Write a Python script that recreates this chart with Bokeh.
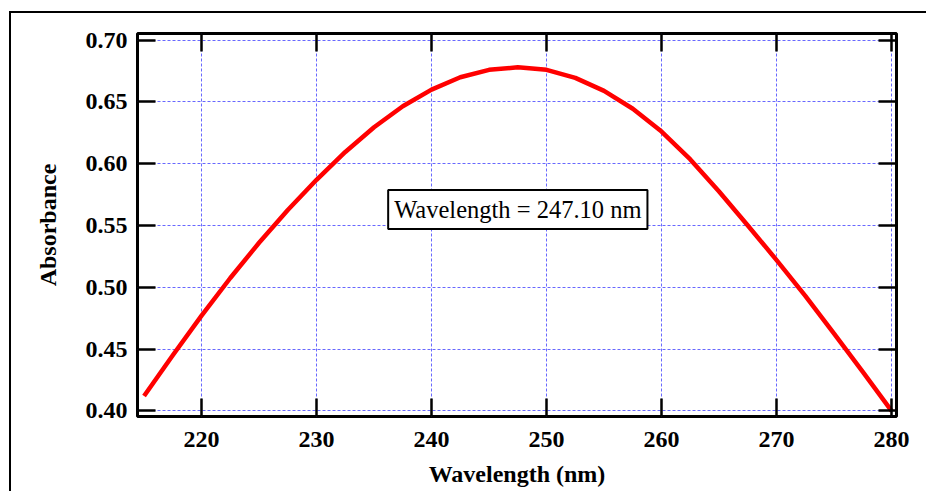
from bokeh.plotting import figure
from bokeh.models import (LinearAxis, Label, FixedTicker, Range1d, NumeralTickFormatter,
                          CustomJSTickFormatter)
from bokeh.embed import file_html
from bokeh.resources import INLINE

wavelength = [215.0, 217.5, 220.0, 222.5, 225.0, 227.5, 230.0, 232.5, 235.0, 237.5,
              240.0, 242.5, 245.0, 247.5, 250.0, 252.5, 255.0, 257.5, 260.0, 262.5,
              265.0, 267.5, 270.0, 272.5, 275.0, 277.5, 280.0]
absorbance = [0.412, 0.445, 0.477, 0.5075, 0.536, 0.5625, 0.587, 0.6095, 0.6295, 0.6465,
              0.660, 0.670, 0.676, 0.678, 0.676, 0.6695, 0.659, 0.6445, 0.626, 0.6035,
              0.5775, 0.550, 0.522, 0.493, 0.4625, 0.4315, 0.400]
x_ticks = [220, 230, 240, 250, 260, 270, 280]
y_ticks = [0.40, 0.45, 0.50, 0.55, 0.60, 0.65, 0.70]
peak_text = "Wavelength = 247.10 nm"
peak_pos = (247.5, 0.563)

FONT = "Liberation Serif"

p = figure(frame_width=759, frame_height=383,
           x_range=Range1d(214.43, 280.43), y_range=Range1d(0.3954, 0.7054),
           output_backend="svg", toolbar_location=None,
           min_border_left=126, min_border_top=20, min_border_right=30, min_border_bottom=75,
           x_axis_label="Wavelength (nm)", y_axis_label="Absorbance")
p.margin = (11, 0, 0, 9)
p.styles = {"border-left": "2px solid black", "border-top": "2px solid black"}

p.outline_line_color = "black"
p.outline_line_width = 3
p.background_fill_color = "white"
p.border_fill_color = "white"

for ax in p.axis:
    ax.axis_line_color = None
    ax.major_tick_in = 18
    ax.major_tick_out = 0
    ax.major_tick_line_width = 2.5
    ax.major_tick_line_color = "black"
    ax.minor_tick_line_color = None
    ax.major_label_text_font = FONT
    ax.major_label_text_font_style = "bold"
    ax.major_label_text_font_size = "24px"
    ax.major_label_text_color = "black"
    ax.axis_label_text_font = FONT
    ax.axis_label_text_font_style = "bold"
    ax.axis_label_text_font_size = "24px"
    ax.axis_label_text_color = "black"

p.xaxis.ticker = FixedTicker(ticks=x_ticks)
p.yaxis.ticker = FixedTicker(ticks=y_ticks)
p.yaxis.formatter = NumeralTickFormatter(format="0.00")
p.xaxis.major_label_standoff = 15
p.yaxis.major_label_standoff = 10
p.xaxis.axis_label_standoff = 11
p.yaxis.axis_label_standoff = 22

blank = CustomJSTickFormatter(code="return ''")
top = LinearAxis(ticker=FixedTicker(ticks=x_ticks), axis_line_color=None,
                 major_tick_in=18, major_tick_out=0, major_tick_line_width=2.5,
                 minor_tick_line_color=None, formatter=blank)
right = LinearAxis(ticker=FixedTicker(ticks=y_ticks), axis_line_color=None,
                   major_tick_in=18, major_tick_out=0, major_tick_line_width=2.5,
                   minor_tick_line_color=None, formatter=blank)
p.add_layout(top, "above")
p.add_layout(right, "right")

p.xgrid.ticker = FixedTicker(ticks=x_ticks)
p.ygrid.ticker = FixedTicker(ticks=y_ticks)
for g in (p.xgrid, p.ygrid):
    g.grid_line_color = "#4d4dff"
    g.grid_line_alpha = 0.85
    g.grid_line_width = 1
    g.grid_line_dash = "3 2"

p.line(wavelength, absorbance, line_color="red", line_width=4.5, line_join="round")

lab = Label(x=peak_pos[0], y=peak_pos[1], text=peak_text,
            text_align="center", text_baseline="middle",
            text_font=FONT, text_font_size="24.5px", text_color="black",
            border_line_color="black", border_line_width=2,
            background_fill_color="white", padding=6)
p.add_layout(lab)

open("out.html", "w").write(file_html(p, INLINE))
